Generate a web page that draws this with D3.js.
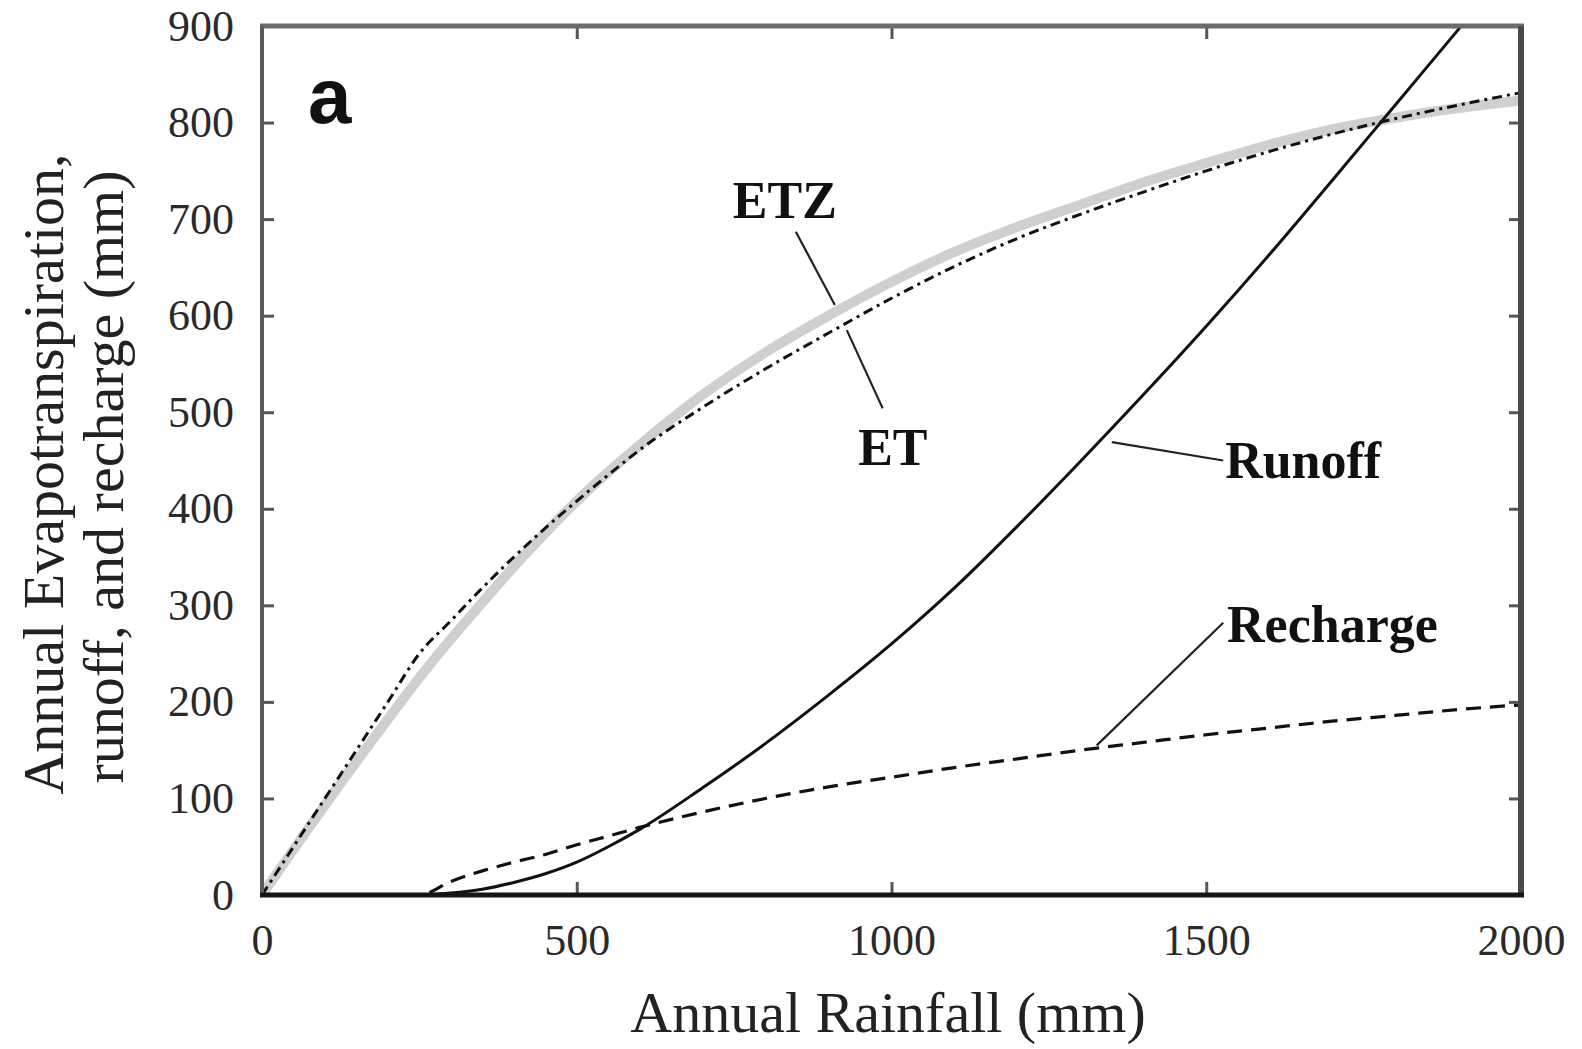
<!DOCTYPE html>
<html>
<head>
<meta charset="utf-8">
<script src="https://cdn.jsdelivr.net/npm/d3@7"></script>
<style>
  html, body { margin: 0; padding: 0; background: #fff; }
  svg { display: block; }
</style>
</head>
<body>
<svg id="chart" width="1582" height="1049"></svg>
<script>
// ---- data ----
const rainfall = [0,100,200,250,300,350,400,450,500,550,600,700,800,900,1000,1100,1200,1300,1400,1500,1600,1700,1800,1900,2000];
const etValues = [0,100,200,250,284,318,350,380,408,435,461,505,545,582,618,651,680,705,728,750,770,788,804,818,831];
const etzValues = [0,93,182,225,265,303,340,375,408,438,466,518,562,600,635,666,692,715,738,758,777,793,805,815,823];
const runoffValues = [0,0,0,0,2,6,13,22,34,50,68,111,157,207,260,318,382,449,518,589,663,740,818,896,975];
const rechargeValues = [0,0,0,0,14,25,34,42,52,61,70,86,100,112,122,132,141,150,158,166,173,180,186,192,197];

const xTicks = [0,500,1000,1500,2000];
const yTicks = [0,100,200,300,400,500,600,700,800,900];

// label anchors in data units: [rainfall, value]
const labels = [
  {text: "ETZ", pos: [748, 701]},
  {text: "ET", pos: [947, 445]},
  {text: "Runoff", pos: [1530, 432]},
  {text: "Recharge", pos: [1533, 262]}
];
const leaders = [
  [[848, 687], [910, 611]],
  [[929, 585], [986, 504]],
  [[1350, 469], [1527, 450]],
  [[1527, 282], [1326, 155]]
];
const panelLetter = {text: "a", pos: [73, 800]};

(function () {
// ---- layout ----
const svg = d3.select("#chart");
const pL = 262, pR = 1521, pT = 26, pB = 895;
const x = d3.scaleLinear().domain([0, 2000]).range([pL, pR]);
const y = d3.scaleLinear().domain([0, 900]).range([pB, pT]);

const serif = "'Liberation Serif', 'Times New Roman', Times, serif";

svg.append("defs").append("clipPath").attr("id", "plotclip")
  .append("rect").attr("x", pL).attr("y", pT).attr("width", pR - pL).attr("height", pB - pT);

const mk = vals => rainfall.map((r, i) => [r, vals[i]]);
const line = d3.line().x(d => x(d[0])).y(d => y(d[1])).curve(d3.curveMonotoneX);

const g = svg.append("g").attr("clip-path", "url(#plotclip)");
g.append("path").attr("d", line(mk(etzValues)))
  .attr("fill", "none").attr("stroke", "#cfcfcf").attr("stroke-width", 10).attr("stroke-linecap", "round");
g.append("path").attr("d", line(mk(etValues)))
  .attr("fill", "none").attr("stroke", "#111").attr("stroke-width", 3)
  .attr("stroke-dasharray", "10,5,3,5");
g.append("path").attr("d", line(mk(runoffValues)))
  .attr("fill", "none").attr("stroke", "#111").attr("stroke-width", 3);
g.append("path").attr("d", line(mk(rechargeValues)))
  .attr("fill", "none").attr("stroke", "#111").attr("stroke-width", 3.2)
  .attr("stroke-dasharray", "15,9");

// ---- axes ----
function styleAxis(sel) {
  sel.select(".domain").remove();
  sel.selectAll(".tick line").attr("stroke", "#555").attr("stroke-width", 3);
  sel.selectAll(".tick text").attr("font-family", serif).attr("font-size", 44).attr("fill", "#2a2a2a");
}
svg.append("g").attr("transform", `translate(0,${pB})`)
  .call(d3.axisBottom(x).tickValues(xTicks).tickSize(-13).tickPadding(29).tickFormat(d3.format("d")))
  .call(styleAxis);
svg.append("g").attr("transform", `translate(${pL},0)`)
  .call(d3.axisLeft(y).tickValues(yTicks).tickSize(-12).tickPadding(28).tickFormat(d3.format("d")))
  .call(styleAxis);
svg.append("g").attr("transform", `translate(0,${pT})`)
  .call(d3.axisTop(x).tickValues(xTicks.slice(1, -1)).tickSize(-13).tickFormat(""))
  .call(styleAxis);
svg.append("g").attr("transform", `translate(${pR},0)`)
  .call(d3.axisRight(y).tickValues(yTicks.slice(1, -1)).tickSize(-12).tickFormat(""))
  .call(styleAxis);

// frame
svg.append("line").attr("x1", pL - 2).attr("x2", pR + 3).attr("y1", pT).attr("y2", pT)
  .attr("stroke", "#6b6b6b").attr("stroke-width", 5);
svg.append("line").attr("x1", pL).attr("x2", pL).attr("y1", pT).attr("y2", pB)
  .attr("stroke", "#5a5a5a").attr("stroke-width", 4);
svg.append("line").attr("x1", pR).attr("x2", pR).attr("y1", pT).attr("y2", pB + 2)
  .attr("stroke", "#4a4a4a").attr("stroke-width", 6);
svg.append("line").attr("x1", pL - 2).attr("x2", pR + 3).attr("y1", pB).attr("y2", pB)
  .attr("stroke", "#151515").attr("stroke-width", 5);

// ---- annotations ----
leaders.forEach(([a, b]) => {
  svg.append("line").attr("x1", x(a[0])).attr("y1", y(a[1])).attr("x2", x(b[0])).attr("y2", y(b[1]))
    .attr("stroke", "#222").attr("stroke-width", 2.2);
});
labels.forEach(l => {
  svg.append("text").attr("x", x(l.pos[0])).attr("y", y(l.pos[1]))
    .attr("font-family", serif).attr("font-weight", "bold").attr("font-size", 52)
    .attr("fill", "#111").text(l.text);
});
svg.append("text").attr("x", x(panelLetter.pos[0])).attr("y", y(panelLetter.pos[1]))
  .attr("font-family", "'Liberation Sans', Arial, sans-serif").attr("font-weight", "bold")
  .attr("font-size", 78).attr("fill", "#111").text(panelLetter.text);

// ---- axis titles ----
svg.append("text").attr("x", 888).attr("y", 1032).attr("text-anchor", "middle")
  .attr("font-family", serif).attr("font-size", 58).attr("fill", "#222")
  .text("Annual Rainfall (mm)");
svg.append("text").attr("transform", "translate(63,474) rotate(-90)").attr("text-anchor", "middle")
  .attr("font-family", serif).attr("font-size", 58).attr("fill", "#222")
  .text("Annual Evapotranspiration,");
svg.append("text").attr("transform", "translate(123,477) rotate(-90)").attr("text-anchor", "middle")
  .attr("font-family", serif).attr("font-size", 58).attr("fill", "#222")
  .text("runoff, and recharge (mm)");
})();
</script>
</body>
</html>
